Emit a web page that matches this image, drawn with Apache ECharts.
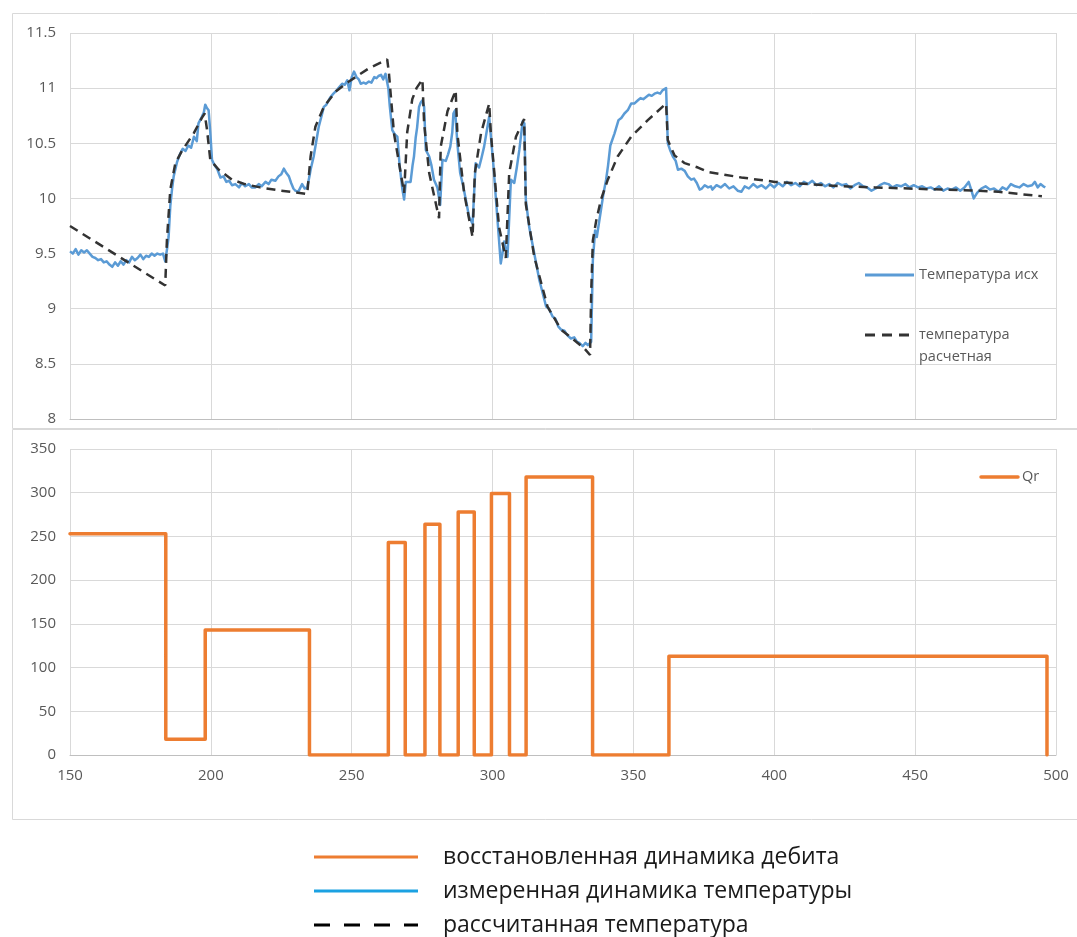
<!DOCTYPE html>
<html><head><meta charset="utf-8">
<script src="https://cdn.jsdelivr.net/npm/echarts@6/dist/echarts.min.js"></script>
<style>html,body{margin:0;padding:0;background:#fff}#c{width:1077px;height:937px}</style>
</head><body><div id="c"></div>
<script>
// ---- data ----
const xRange = [150, 500, 50];          // time axis: min, max, step
const tempRange = [8, 11.5, 0.5];       // temperature axis
const qrRange = [0, 350, 50];           // rate axis

const seriesNames = ['Температура исх', 'температура расчетная', 'Qr'];
const captionNames = ['восстановленная динамика дебита', 'измеренная динамика температуры', 'рассчитанная температура'];

const measuredTemp = [
[150,9.52],[151,9.50],[152,9.54],[153,9.49],[154,9.53],[155,9.51],[156,9.53],[157,9.50],[158,9.47],[159,9.46],
[160,9.44],[161,9.45],[162,9.42],[163,9.43],[164,9.40],[165,9.38],[166,9.42],[167,9.39],[168,9.43],[169,9.40],
[170,9.44],[171,9.42],[172,9.47],[173,9.44],[174,9.46],[175,9.49],[176,9.45],[177,9.48],[178,9.47],[179,9.50],
[180,9.48],[181,9.50],[182,9.49],[183,9.50],[183.8,9.43],[184.5,9.55],[185,9.65],[185.6,9.93],[186.2,10.08],[186.8,10.2],
[188,10.33],[189,10.40],[190,10.45],[191,10.43],[192,10.48],[193,10.46],[194,10.56],[195,10.52],[195.6,10.68],[196.8,10.74],
[197.5,10.78],[198,10.85],[198.6,10.82],[199.2,10.80],[199.8,10.60],[200.4,10.35],[201.3,10.30],[202.2,10.27],[203.4,10.19],[204.5,10.20],
[205.5,10.15],[206.5,10.16],[207.5,10.12],[208.7,10.13],[210,10.10],[211,10.14],[212.2,10.11],[213.5,10.13],[214.5,10.10],[215.8,10.10],
[217,10.13],[218,10.11],[219.4,10.15],[220.5,10.13],[221.5,10.17],[222.9,10.16],[224,10.20],[225,10.22],[225.9,10.27],[226.8,10.23],
[227.7,10.20],[228.5,10.14],[229.3,10.09],[230,10.07],[231,10.06],[232.4,10.13],[233.3,10.09],[234.2,10.10],[235,10.20],[235.4,10.26],
[236.5,10.38],[237.3,10.50],[238.3,10.65],[239.2,10.74],[240.1,10.83],[241,10.85],[242.5,10.92],[243.5,10.95],[244.3,10.97],[245.3,11.00],
[246.6,11.04],[247.5,11.03],[248.4,11.07],[249.2,10.98],[250,11.10],[250.8,11.15],[251.7,11.10],[252.5,11.08],[253.2,11.04],[254.2,11.05],
[255,11.04],[256.1,11.06],[257,11.05],[258,11.10],[258.8,11.09],[259.5,11.11],[260.4,11.12],[261.2,11.08],[262,11.13],[262.6,11.14],
[263,11.00],[263.5,10.84],[264.4,10.62],[265.3,10.58],[266.2,10.56],[267,10.30],[268,10.08],[268.6,9.99],[269.2,10.15],[270.9,10.15],
[271.6,10.30],[272.1,10.38],[272.7,10.55],[273.2,10.64],[273.9,10.83],[274.5,10.87],[275.1,10.89],[275.7,10.83],[276.3,10.44],[277.5,10.38],
[278.3,10.30],[279.2,10.17],[280.4,10.10],[281.4,9.94],[282.2,10.35],[283.4,10.34],[284.2,10.40],[285,10.47],[285.7,10.60],[286.1,10.77],
[286.7,10.80],[287.5,10.50],[288.5,10.23],[289.5,10.12],[290.5,9.99],[291.7,9.83],[292.9,9.77],[294,10.32],[295.2,10.28],[296,10.36],
[297,10.47],[298,10.62],[298.8,10.74],[299.4,10.74],[300.3,10.30],[301.2,9.99],[302.3,9.62],[302.9,9.41],[303.5,9.50],[304.1,9.61],
[305.3,9.47],[306.5,10.17],[307.7,10.14],[308.6,10.28],[309.5,10.44],[310.7,10.70],[311.3,10.68],[311.8,9.99],[313,9.74],[314.8,9.50],
[316.6,9.26],[318,9.12],[319,9.02],[320,9.00],[321.3,8.93],[322.3,8.91],[323.3,8.84],[324.3,8.81],[325.5,8.80],[326.5,8.76],
[327.8,8.73],[329,8.74],[330,8.70],[330.8,8.69],[332,8.66],[333,8.69],[333.8,8.67],[335,8.70],[335.6,9.44],[336.4,9.71],
[337,9.65],[337.6,9.66],[338.5,9.90],[339.4,10.05],[340.3,10.17],[341,10.30],[341.8,10.48],[343.3,10.59],[344.7,10.71],[345.7,10.73],
[346.8,10.77],[348,10.80],[349.2,10.86],[350.3,10.86],[351.6,10.89],[352.5,10.91],[353.5,10.90],[354.5,10.92],[355.5,10.94],[356.5,10.93],
[357.5,10.95],[358.5,10.96],[359.5,10.95],[360.3,10.98],[361,10.97],[361.6,11.00],[362.2,10.50],[363,10.44],[364,10.38],[365,10.34],
[365.8,10.26],[367,10.27],[368.2,10.25],[369.3,10.20],[370.5,10.17],[371.5,10.18],[372.5,10.14],[373.5,10.08],[374.3,10.09],[375.3,10.12],
[376.5,10.10],[377.5,10.11],[378,10.08],[379.5,10.12],[381,10.10],[382.5,10.13],[384,10.09],[385.5,10.11],[387,10.07],[388.3,10.06],
[389.5,10.11],[391,10.09],[392.5,10.13],[394,10.10],[395.5,10.12],[397,10.09],[398.5,10.13],[400,10.10],[401.5,10.14],[403,10.11],
[404.5,10.15],[406,10.12],[407.5,10.14],[409,10.11],[410.5,10.15],[412,10.13],[413.5,10.16],[415,10.12],[416.5,10.14],[418,10.11],
[419.5,10.13],[421,10.10],[422.5,10.14],[424,10.12],[425.5,10.13],[427,10.09],[428.5,10.12],[430,10.14],[431.5,10.11],[433,10.10],
[434.5,10.07],[436,10.09],[437.5,10.12],[439,10.14],[440.5,10.13],[442,10.10],[443.5,10.12],[445,10.11],[446.5,10.13],[448,10.10],
[449.5,10.12],[451,10.10],[452.5,10.11],[454,10.09],[455.5,10.10],[457,10.08],[458.5,10.11],[460,10.07],[461.5,10.09],[463,10.08],
[464.5,10.10],[466,10.07],[467.5,10.10],[469,10.15],[470,10.07],[470.8,10.00],[472,10.05],[473.5,10.09],[475,10.11],[476.5,10.08],
[478,10.09],[479.6,10.06],[481,10.10],[482.5,10.08],[484,10.13],[485.5,10.11],[487,10.10],[488.5,10.13],[490,10.11],[491.5,10.12],
[492.5,10.15],[493.5,10.10],[494.5,10.13],[495.5,10.11],[496.2,10.10]
];

const calcTemp = [
[150,9.75],[183.8,9.21],[184.4,9.62],[185.6,10.08],[187.4,10.32],[189.7,10.43],[193.9,10.59],[196.8,10.73],[197.8,10.77],[198.6,10.63],
[199.8,10.35],[202.8,10.26],[207.5,10.17],[212,10.13],[217.5,10.10],[225,10.07],[234.2,10.04],[235.4,10.38],[237.1,10.65],[240.1,10.83],
[244.3,10.97],[249,11.06],[256.1,11.18],[262.6,11.26],[263.2,11.14],[265,10.59],[268.6,10.05],[269.7,10.60],[271.5,10.90],[273,11.00],
[275.1,11.08],[275.7,10.68],[277.5,10.23],[281,9.82],[281.6,10.47],[284,10.79],[286.9,10.98],[287.5,10.59],[289.9,10.05],[292.9,9.65],
[293.7,10.23],[295.9,10.59],[298.8,10.86],[299.4,10.59],[302.3,9.74],[304.7,9.46],[305.9,10.23],[308.3,10.56],[311.2,10.72],[311.8,9.95],
[314.8,9.47],[319.5,9.02],[324.3,8.81],[327.8,8.74],[332.6,8.64],[334.6,8.58],[335,9.14],[335.6,9.62],[336.8,9.80],[338.5,9.99],
[340.9,10.17],[344.4,10.38],[349.2,10.56],[355.1,10.71],[361.6,10.86],[362.2,10.53],[364.6,10.39],[368.2,10.32],[372.9,10.28],[376.5,10.24],
[388.3,10.19],[400.2,10.15],[412.1,10.13],[423.9,10.11],[435.7,10.10],[447.6,10.09],[459.5,10.08],[471.4,10.07],[479.6,10.06],[487,10.04],
[495,10.02]
];

// rate steps: [time at which the value starts, value]
const qrSteps = [
[150,253],[184,18],[198,143],[235,0],[263,243],[269,0],[276,264],[281.3,0],[287.8,278],[293.5,0],
[299.6,299],[306,0],[311.9,318],[335.5,0],[362.6,113],[496.8,113],[496.8,0]
];

// ---- chart ----
const FONT = '"Open Sans", "Noto Sans", sans-serif';
const GRID_C = '#D9D9D9', LABEL_C = '#595959';
const chart = echarts.init(document.getElementById('c'), null, {renderer: 'canvas'});

function xAx(gi, showLabel) {
  return {
    type: 'value', gridIndex: gi, min: xRange[0], max: xRange[1], interval: xRange[2],
    axisLine: {show: true, lineStyle: {color: '#BFBFBF', width: 1}},
    axisTick: {show: false},
    axisLabel: {show: showLabel, color: LABEL_C, fontSize: 15, fontFamily: FONT, margin: 13},
    splitLine: {show: true, lineStyle: {color: GRID_C, width: 1}}
  };
}
function yAx(gi, r) {
  return {
    type: 'value', gridIndex: gi, min: r[0], max: r[1], interval: r[2],
    axisLine: {show: false}, axisTick: {show: false},
    axisLabel: {color: LABEL_C, fontSize: 15, fontFamily: FONT, margin: 14},
    splitLine: {show: true, lineStyle: {color: GRID_C, width: 1}}
  };
}

const option = {
  animation: false,
  backgroundColor: '#fff',
  grid: [
    {left: 70, top: 33, width: 986, height: 386},
    {left: 70, top: 449, width: 986, height: 306}
  ],
  xAxis: [xAx(0, false), xAx(1, true)],
  yAxis: [yAx(0, tempRange), yAx(1, qrRange)],
  series: [
    {name: seriesNames[0], type: 'line', xAxisIndex: 0, yAxisIndex: 0, data: measuredTemp,
     showSymbol: false, symbol: 'none', z: 3,
     lineStyle: {color: '#5B9BD5', width: 2.5, join: 'round'}},
    {name: seriesNames[1], type: 'line', xAxisIndex: 0, yAxisIndex: 0, data: calcTemp,
     showSymbol: false, symbol: 'none', z: 4,
     lineStyle: {color: '#333333', width: 2.5, type: [9, 6]}},
    {name: seriesNames[2], type: 'line', step: 'end', xAxisIndex: 1, yAxisIndex: 1, data: qrSteps,
     showSymbol: false, symbol: 'none', z: 3,
     lineStyle: {color: '#ED7D31', width: 3.5, join: 'round', cap: 'round'}}
  ],
  graphic: [
    {type: 'rect', shape: {x: 12.5, y: 13.5, width: 1100, height: 415}, style: {fill: 'none', stroke: GRID_C, lineWidth: 1}, silent: true, z: -1},
    {type: 'rect', shape: {x: 12.5, y: 429.5, width: 1100, height: 390}, style: {fill: 'none', stroke: GRID_C, lineWidth: 1}, silent: true, z: -1},
    // inner legend, top chart
    {type: 'line', shape: {x1: 865, y1: 275, x2: 914, y2: 275}, style: {stroke: '#5B9BD5', lineWidth: 3}, z: 10},
    {type: 'text', x: 919, y: 275, style: {text: seriesNames[0], fill: LABEL_C, fontSize: 14.5, fontFamily: FONT, verticalAlign: 'middle'}, z: 10},
    {type: 'line', shape: {x1: 865, y1: 335, x2: 914, y2: 335}, style: {stroke: '#333333', lineWidth: 3, lineDash: [10, 7]}, z: 10},
    {type: 'text', x: 919, y: 335, style: {text: 'температура', fill: LABEL_C, fontSize: 14.5, fontFamily: FONT, verticalAlign: 'middle'}, z: 10},
    {type: 'text', x: 919, y: 357, style: {text: 'расчетная', fill: LABEL_C, fontSize: 14.5, fontFamily: FONT, verticalAlign: 'middle'}, z: 10},
    // inner legend, bottom chart
    {type: 'line', shape: {x1: 981, y1: 477, x2: 1018, y2: 477}, style: {stroke: '#ED7D31', lineWidth: 3.5, lineCap: 'round'}, z: 10},
    {type: 'text', x: 1022, y: 477, style: {text: seriesNames[2], fill: LABEL_C, fontSize: 14.5, fontFamily: FONT, verticalAlign: 'middle'}, z: 10},
    // caption legend below
    {type: 'line', shape: {x1: 314, y1: 857, x2: 418, y2: 857}, style: {stroke: '#ED7D31', lineWidth: 3}},
    {type: 'text', x: 443, y: 857, style: {text: captionNames[0], fill: '#1a1a1a', fontSize: 23, fontFamily: FONT, verticalAlign: 'middle'}},
    {type: 'line', shape: {x1: 314, y1: 891, x2: 418, y2: 891}, style: {stroke: '#1BA1E2', lineWidth: 3}},
    {type: 'text', x: 443, y: 891, style: {text: captionNames[1], fill: '#1a1a1a', fontSize: 23, fontFamily: FONT, verticalAlign: 'middle'}},
    {type: 'line', shape: {x1: 314, y1: 925, x2: 418, y2: 925}, style: {stroke: '#000', lineWidth: 3, lineDash: [16, 14]}},
    {type: 'text', x: 443, y: 925, style: {text: captionNames[2], fill: '#1a1a1a', fontSize: 23, fontFamily: FONT, verticalAlign: 'middle'}}
  ]
};
chart.setOption(option);
</script>
</body></html>
